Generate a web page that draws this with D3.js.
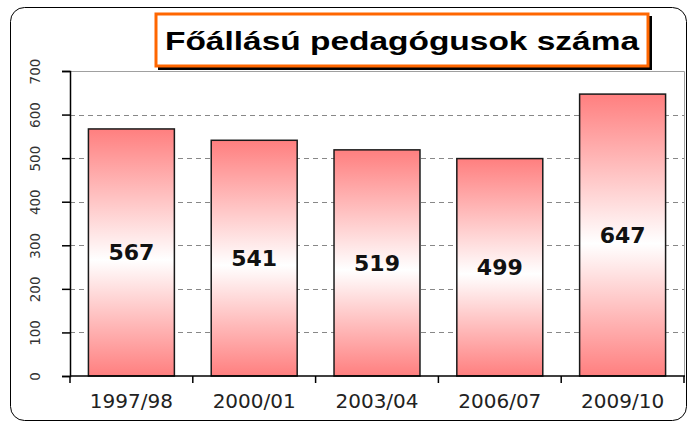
<!DOCTYPE html>
<html>
<head>
<meta charset="utf-8">
<script src="https://cdn.jsdelivr.net/npm/d3@7"></script>
<style>
  body { margin: 0; background: #fff; }
  svg { display: block; }
</style>
</head>
<body>
<div id="chart"></div>
<script>
// data
const years = ["1997/98", "2000/01", "2003/04", "2006/07", "2009/10"];
const teachers = [567, 541, 519, 499, 647];
const yTicks = [0, 100, 200, 300, 400, 500, 600, 700];
const title = "Főállású pedagógusok száma";

const W = 688, H = 423;
const plot = { left: 70, right: 684, top: 71, bottom: 376 };

const svg = d3.select("#chart").append("svg")
  .attr("width", W).attr("height", H);

// bar gradient: red at top and bottom, white around the middle
const grad = svg.append("defs").append("linearGradient")
  .attr("id", "barGrad").attr("x1", 0).attr("y1", 0).attr("x2", 0).attr("y2", 1);
grad.append("stop").attr("offset", "0%").attr("stop-color", "#ff7f7f");
grad.append("stop").attr("offset", "53%").attr("stop-color", "#ffffff");
grad.append("stop").attr("offset", "100%").attr("stop-color", "#ff7f7f");

// outer chart frame
svg.append("rect")
  .attr("x", 10.5).attr("y", 7.5).attr("width", 676).attr("height", 413)
  .attr("rx", 14).attr("fill", "#fff").attr("stroke", "#000").attr("stroke-width", 1);

const x = d3.scaleBand().domain(years).range([plot.left, plot.right]).paddingInner(0.3).paddingOuter(0.15);
const y = d3.scaleLinear().domain([0, 700]).range([plot.bottom, plot.top]);

// plot area border (top / right)
svg.append("path")
  .attr("d", `M${plot.left},${plot.top + 0.5}H${plot.right + 0.5}V${plot.bottom}`)
  .attr("fill", "none").attr("stroke", "#a0a0a0").attr("stroke-width", 1);

// dashed gridlines
svg.append("g").selectAll("line")
  .data(yTicks.filter(d => d > 0 && d < 700))
  .join("line")
  .attr("x1", plot.left).attr("x2", plot.right)
  .attr("y1", d => Math.round(y(d)) + 0.5).attr("y2", d => Math.round(y(d)) + 0.5)
  .attr("stroke", "#888").attr("stroke-width", 1).attr("stroke-dasharray", "5,4");

// bars
svg.append("g").selectAll("rect")
  .data(teachers)
  .join("rect")
  .attr("x", (d, i) => x(years[i]))
  .attr("y", d => y(d))
  .attr("width", x.bandwidth())
  .attr("height", d => y(0) - y(d))
  .attr("fill", "url(#barGrad)")
  .attr("stroke", "#1a1a1a").attr("stroke-width", 1.5);

// value labels
svg.append("g").selectAll("text")
  .data(teachers)
  .join("text")
  .attr("x", (d, i) => x(years[i]) + x.bandwidth() / 2)
  .attr("y", d => (y(d) + y(0)) / 2 + 8)
  .attr("text-anchor", "middle")
  .attr("font-family", "DejaVu Sans, sans-serif")
  .attr("font-weight", "bold")
  .attr("font-size", 22)
  .attr("fill", "#111")
  .text(d => d);

// y axis
const yAxis = svg.append("g")
  .attr("transform", `translate(${plot.left},0)`)
  .call(d3.axisLeft(y).tickValues(yTicks).tickSize(8).tickFormat(d3.format("d")));
yAxis.select(".domain").attr("stroke", "#000").attr("stroke-width", 1.5);
yAxis.selectAll(".tick line").attr("stroke", "#000").attr("stroke-width", 1.5);
yAxis.selectAll(".tick text")
  .attr("font-family", "DejaVu Sans, sans-serif")
  .attr("font-size", 13.5)
  .attr("fill", "#333")
  .attr("text-anchor", "middle")
  .attr("x", 0).attr("dy", 0)
  .attr("transform", "translate(-35,0) rotate(-90)")
  .attr("dominant-baseline", "central");

// x axis: ticks between categories
const xAxis = svg.append("g").attr("transform", `translate(0,${plot.bottom})`);
xAxis.append("line")
  .attr("x1", plot.left).attr("x2", plot.right + 1)
  .attr("stroke", "#000").attr("stroke-width", 1.5);
const edges = years.map(d => x(d) - x.step() * x.paddingInner() / 2).concat([plot.right]);
xAxis.selectAll("line.tk")
  .data(edges)
  .join("line").attr("class", "tk")
  .attr("x1", d => d).attr("x2", d => d).attr("y1", 0).attr("y2", 7)
  .attr("stroke", "#000").attr("stroke-width", 1.5);
xAxis.selectAll("text")
  .data(years)
  .join("text")
  .attr("x", d => x(d) + x.bandwidth() / 2)
  .attr("y", 32)
  .attr("text-anchor", "middle")
  .attr("font-family", "DejaVu Sans, sans-serif")
  .attr("font-size", 20)
  .attr("fill", "#222")
  .text(d => d);

// title box with shadow
svg.append("rect")
  .attr("x", 158).attr("y", 16).attr("width", 494).attr("height", 54)
  .attr("fill", "#000");
svg.append("rect")
  .attr("x", 156).attr("y", 14).attr("width", 492).attr("height", 52)
  .attr("fill", "#fff").attr("stroke", "#ff6600").attr("stroke-width", 3);
svg.append("text")
  .attr("x", 402).attr("y", 50)
  .attr("text-anchor", "middle")
  .attr("font-family", "Liberation Sans, Arial, sans-serif")
  .attr("font-weight", "bold")
  .attr("font-size", 25)
  .attr("textLength", 474)
  .attr("lengthAdjust", "spacingAndGlyphs")
  .attr("fill", "#000")
  .text(title);
</script>
</body>
</html>
